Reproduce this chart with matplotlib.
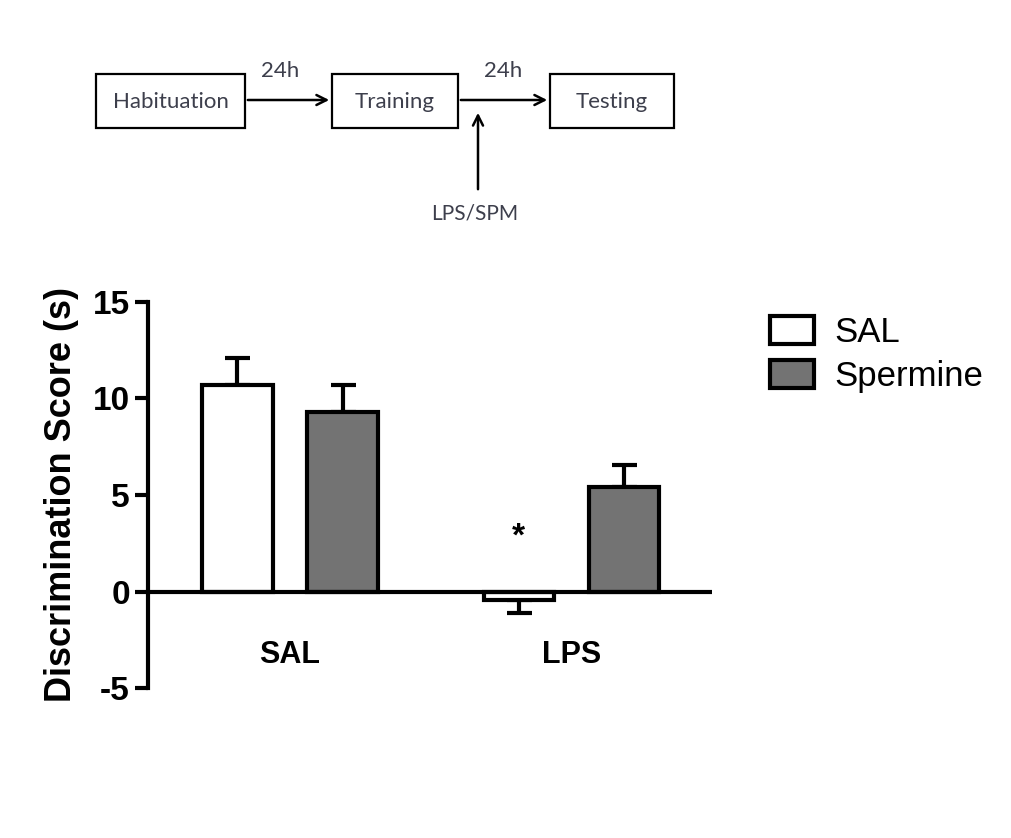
import numpy as np
import matplotlib.pyplot as plt
from matplotlib.patches import Rectangle

plt.rcParams["axes.unicode_minus"] = False

# data
groups = ["SAL", "LPS"]
series = ["SAL", "Spermine"]
sal_means = [10.7, -0.45]
sal_err = [1.4, 0.65]
spm_means = [9.3, 5.4]
spm_err = [1.4, 1.15]
stars = ["", "*"]

fig = plt.figure(figsize=(10.11, 8.38), dpi=100)
W, H = 1011, 838

# ---- protocol diagram on top (pixel coords overlay) ----
dia = fig.add_axes([0, 0, 1, 1])
dia.set_xlim(0, W)
dia.set_ylim(H, 0)
dia.axis("off")
tc = "#3d3f4c"
boxes = [("Habituation", 96, 245), ("Training", 332, 458), ("Testing", 550, 674)]
for name, x0, x1 in boxes:
    dia.add_patch(Rectangle((x0, 74), x1 - x0, 54, fill=False, lw=1.6, ec="black"))
    dia.text((x0 + x1) / 2, 102, name, ha="center", va="center", fontsize=16,
             family="Lato", color=tc)
arrow = dict(arrowstyle="->", lw=1.8, color="black", mutation_scale=18)
dia.annotate("", xy=(332, 100), xytext=(245, 100), arrowprops=arrow)
dia.annotate("", xy=(550, 100), xytext=(458, 100), arrowprops=arrow)
dia.annotate("", xy=(478, 110), xytext=(478, 192), arrowprops=arrow)
dia.text(280, 71, "24h", ha="center", va="center", fontsize=16, family="Lato", color=tc)
dia.text(503, 71, "24h", ha="center", va="center", fontsize=16, family="Lato", color=tc)
dia.text(475, 213, "LPS/SPM", ha="center", va="center", fontsize=15, family="Lato", color=tc)

# ---- bar chart ----
ax = fig.add_axes([148 / W, 1 - 688 / H, (712 - 148) / W, (688 - 302) / H])
x = np.arange(len(groups))
w = 0.25
off = 0.187
kw = dict(width=w, edgecolor="black", linewidth=3, zorder=3)
ekw = dict(elinewidth=3, capthick=3, ecolor="black")
b1 = ax.bar(x - off, sal_means, color="white", label=series[0], **kw)
b2 = ax.bar(x + off, spm_means, color="#737373", label=series[1], **kw)
for xi, m, e in zip(x - off, sal_means, sal_err):
    ax.errorbar(xi, m, yerr=[[0], [e]] if m >= 0 else [[e], [0]], fmt="none",
                capsize=9, zorder=2, **ekw)
for xi, m, e in zip(x + off, spm_means, spm_err):
    ax.errorbar(xi, m, yerr=[[0], [e]], fmt="none", capsize=9, zorder=2, **ekw)
for xi, s in zip(x - off, stars):
    if s:
        ax.text(xi, 2.8, s, ha="center", va="center", fontsize=24, fontweight="bold",
                family="Liberation Sans")

ax.axhline(0, color="black", lw=3, zorder=4)
ax.set_xlim(-0.505, 1.5)
ax.set_ylim(-5, 15)
ax.set_yticks([-5, 0, 5, 10, 15])
for s in ["top", "right", "bottom"]:
    ax.spines[s].set_visible(False)
ax.spines["left"].set_linewidth(3)
ax.tick_params(axis="y", width=3, length=9.5, direction="out", pad=3.5)
ax.set_xticks([])
for lab in ax.get_yticklabels():
    lab.set_fontweight("bold")
    lab.set_fontsize(24)
    lab.set_family("Liberation Sans")
for xi, g in zip(x, groups):
    ax.text(xi, -3.29, g, ha="center", va="center", fontsize=22, fontweight="bold",
            family="Liberation Sans")
ax.set_ylabel("Discrimination Score (s)", fontsize=26, fontweight="bold",
              family="Liberation Sans", labelpad=10)

leg = fig.legend(handles=[b1, b2], labels=series, loc="upper left",
                 bbox_to_anchor=(756 / W, 1 - 302 / H), frameon=False,
                 prop=dict(family="Liberation Sans", size=25),
                 handlelength=1.27, handleheight=0.85, handletextpad=0.6,
                 labelspacing=0.33, borderaxespad=0)

fig.savefig("out.png", dpi=100, facecolor="white")
